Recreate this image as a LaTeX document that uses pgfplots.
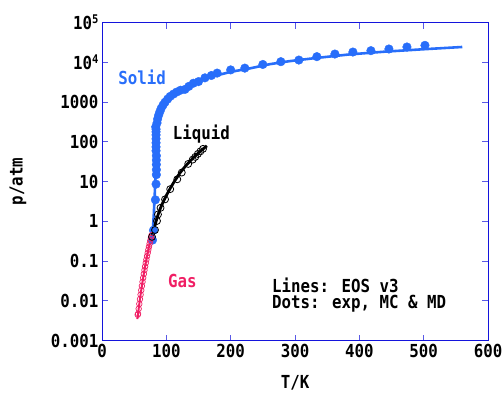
\documentclass[border=0pt]{standalone}
\usepackage{fontspec}
\setmainfont{DejaVu Sans Mono}
\newfontfamily\gfont[FakeStretch=0.88]{DejaVu Sans Mono}
\usepackage{pgfplots}
\pgfplotsset{compat=1.18}
\definecolor{sblue}{RGB}{40,110,250}
\definecolor{gred}{RGB}{240,30,100}
\definecolor{axblue}{RGB}{20,20,220}
\definecolor{tkblue}{RGB}{90,90,230}
\newcommand{\gf}{\gfont\bfseries\fontsize{18}{20}\selectfont}
\begin{document}
\begin{tikzpicture}
\begin{axis}[
  scale only axis, width=386bp, height=318bp,
  xmin=0, xmax=600, ymode=log, ymin=1e-3, ymax=1e5,
  xtick={0,100,200,300,400,500,600},
  xticklabels={0,100,200,300,400,500,600},
  ytick={1e-3,1e-2,1e-1,1,10,100,1000,1e4,1e5},
  yticklabels={0.001,0.01,0.1,1,10,100,1000,10\raisebox{0.6ex}{\fontsize{12}{13}\selectfont 4},10\raisebox{0.6ex}{\fontsize{12}{13}\selectfont 5}},
  yminorticks=false, xminorticks=false,
  axis line style={axblue, line width=1pt},
  tick style={tkblue, line width=1pt}, major tick length=6bp,
  tick align=inside,
  ticklabel style={font=\gf},
  xlabel={T/K}, ylabel={p/atm},
  label style={font=\gf},
  xlabel style={at={(axis description cs:0.5,-0.132)}, anchor=center},
  ylabel style={at={(axis description cs:-0.218,0.5)}, anchor=center},
  clip=true,
]
% Solid line
\addplot[sblue, line width=2.6pt, no marks] coordinates {
(78,0.3) (79,0.6) (80.5,1.5) (82,5) (83.5,20) (84.5,80) (84.5,160) (85,250)
(86.5,380) (89,550) (93,800) (99,1100) (106,1400) (115,1800) (126,2200)
(142,2900) (160,3800) (180,4800) (200,5800) (230,7100) (260,9000) (290,10700)
(330,12800) (386,16000) (440,18700) (500,21500) (560,24500)};
% Solid dots
\addplot[only marks, mark=*, mark size=4.3bp, sblue, mark options={fill=sblue, draw=sblue}] coordinates {
(78.5,0.34) (80,0.6) (83,3.5) (84,8.7) (84.5,15) (84.5,20) (84.5,27) (84.5,35)
(84.5,45) (84,60) (84,75) (84,95) (84,120) (84,150) (84,180) (84,210) (83.5,240)
(85.5,300) (86.5,380) (88,470) (90,580) (92,700) (95,850) (98,1000) (102,1200)
(106,1400) (111,1600) (116,1800) (122,2000) (129,2100) (135,2500) (142,3000)
(150,3300) (160,4100) (170,4700) (179,5400) (200,6500) (222,7200) (250,8900)
(278,10450) (306,11500) (334,14000) (362,16300) (390,18300) (418,19800)
(446,21800) (474,24500) (502,26900)};
% Gas line
\addplot[gred, line width=2pt, no marks] coordinates {
(55,0.0035) (56,0.00474) (57,0.00636) (58,0.00843) (59,0.0111) (60,0.0144)
(61,0.0186) (62,0.0239) (63,0.0303) (64,0.0382) (65,0.0478) (66,0.0595)
(67,0.0735) (68,0.0902) (69,0.110) (70,0.134) (71,0.161) (72,0.194)
(73,0.231) (74,0.275) (75,0.326) (76,0.384) (77,0.450) (78,0.5)};
% Gas circles
\addplot[only marks, mark=o, mark size=2.8bp, gred, mark options={line width=0.7pt}] coordinates {
(55.5,0.0045) (56,0.00474) (57,0.00636) (58,0.00843) (59,0.0111) (60,0.0144)
(61,0.0186) (62,0.0239) (63,0.0303) (64,0.0382) (65,0.0478) (66,0.0595)
(67,0.0735) (68,0.0902) (69,0.110) (70,0.134) (71,0.161) (72,0.194)
(73,0.231) (74,0.275) (75,0.326) (76,0.384) (77,0.450)};
% Liquid line
\addplot[black, line width=2.8pt, no marks] coordinates {
(78,0.4) (80,0.55) (82,0.75) (84,1.0) (87,1.45) (90,2.0) (95,3.1) (100,4.5)
(106,6.8) (113,10.5) (121,16.5) (130,25) (142,40) (152,57) (163,80)};
% Liquid circles
\addplot[only marks, mark=o, mark size=3.5bp, black, mark options={line width=0.8pt}] coordinates {
(77.7,0.41) (82.4,0.61) (85.5,1.03) (87,1.5) (91,2.2) (98,3.6) (106,6.5)
(117,11.5) (124,17) (134,28) (141,36) (145,42) (149,50) (153,58) (157,67)};
% labels
\node[anchor=base west, text=sblue, inner sep=0pt] at (axis cs:25,2710) {\gf Solid};
\node[anchor=base west, text=black, inner sep=0pt] at (axis cs:110,118.6) {\gf Liquid};
\node[anchor=base west, text=gred, inner sep=0pt] at (axis cs:102.6,0.0212) {\gf Gas};
\node[anchor=base west, text=black, inner sep=0pt] at (axis cs:264,0.0168) {\gf Lines: EOS v3};
\node[anchor=base west, text=black, inner sep=0pt] at (axis cs:264,0.00638) {\gf Dots: exp, MC \& MD};
\end{axis}
\pgfresetboundingbox
\path[use as bounding box] ([shift={(-102bp,-55.3bp)}]current axis.south west) rectangle ([shift={(16bp,22.7bp)}]current axis.north east);
\end{tikzpicture}
\end{document}
